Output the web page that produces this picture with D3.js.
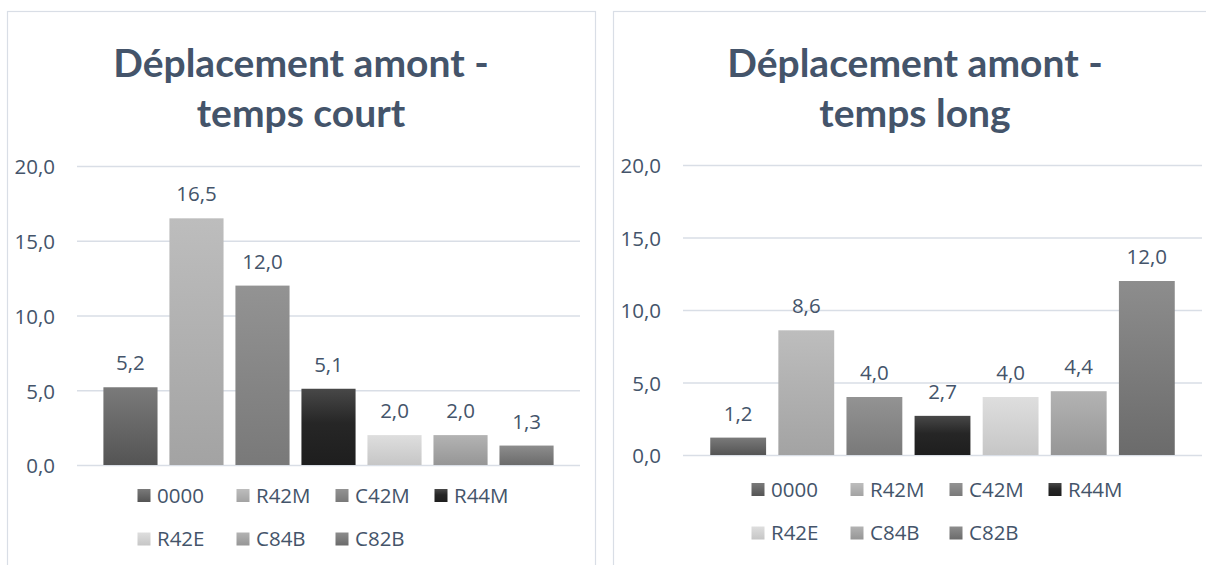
<!DOCTYPE html>
<html lang="fr">
<head>
<meta charset="utf-8">
<script src="https://cdn.jsdelivr.net/npm/d3@7"></script>
<style>
  html, body { margin: 0; padding: 0; background: #ffffff; }
  svg { display: block; }
  .tick text, .value-label, .legend-label { font-family: "Open Sans", "Noto Sans", sans-serif; fill: #44546A; }
  .title { font-family: Lato, "Open Sans", sans-serif; font-weight: 700; fill: #44546A; }
</style>
</head>
<body>
<svg id="chart" width="1206" height="565"></svg>
<script>
// Séries : une barre par configuration
const categories = ["0000", "R42M", "C42M", "R44M", "R42E", "C84B", "C82B"];
const valuesCourt = [5.2, 16.5, 12.0, 5.1, 2.0, 2.0, 1.3];
const valuesLong = [1.2, 8.6, 4.0, 2.7, 4.0, 4.4, 12.0];
const yTicks = [0, 5, 10, 15, 20];
const titlesCourt = ["Déplacement amont -", "temps court"];
const titlesLong = ["Déplacement amont -", "temps long"];

// Dégradés verticaux (haut → bas) de chaque série
const fillStops = [
  ["#7a7a7a", "#545454"],
  ["#bdbdbd", "#a3a3a3"],
  ["#939393", "#797979"],
  ["#484848", "#1e1e1e"],
  ["#dedede", "#c6c6c6"],
  ["#b3b3b3", "#969696"],
  ["#8d8d8d", "#6b6b6b"]
];

const fr = d3.formatLocale({ decimal: ",", thousands: " ", grouping: [3], currency: ["", " €"] });
const fmt = fr.format(".1f");

const svg = d3.select("#chart");
const defs = svg.append("defs");

fillStops.forEach((s, i) => {
  const g = defs.append("linearGradient")
    .attr("id", "grad" + i)
    .attr("x1", 0).attr("y1", 0).attr("x2", 0).attr("y2", 1);
  g.append("stop").attr("offset", "0%").attr("stop-color", s[0]);
  if (i === 3) g.append("stop").attr("offset", "45%").attr("stop-color", "#262626");
  g.append("stop").attr("offset", "100%").attr("stop-color", s[1]);
});

const panels = [
  {
    titles: titlesCourt, values: valuesCourt,
    frame: { x: 7.5, y: 11.5, w: 588, h: 600 },
    titleX: 301, titleY: [77, 127],
    plot: { x0: 77, x1: 580, y0: 166, y1: 465 },
    legend: { y: 489, rowGap: 43.5 }
  },
  {
    titles: titlesLong, values: valuesLong,
    frame: { x: 613.5, y: 11.5, w: 610, h: 600 },
    titleX: 915, titleY: [77, 127],
    plot: { x0: 683, x1: 1202, y0: 165, y1: 455 },
    legend: { y: 483, rowGap: 43.5 }
  }
];

panels.forEach(p => {
  const root = svg.append("g");

  // cadre du graphique
  root.append("rect")
    .attr("x", p.frame.x).attr("y", p.frame.y)
    .attr("width", p.frame.w).attr("height", p.frame.h)
    .attr("fill", "#ffffff")
    .attr("stroke", "#D9DEE6").attr("stroke-width", 1.2);

  // titre sur deux lignes
  root.selectAll("text.title")
    .data(p.titles)
    .join("text")
    .attr("class", "title")
    .attr("x", p.titleX)
    .attr("y", (d, i) => p.titleY[i])
    .attr("text-anchor", "middle")
    .attr("font-size", 39)
    .text(d => d);

  const x = d3.scaleBand()
    .domain(categories)
    .range([p.plot.x0, p.plot.x1])
    .paddingInner(0.18)
    .paddingOuter(0.4);

  const y = d3.scaleLinear()
    .domain([0, 20])
    .range([p.plot.y1, p.plot.y0]);

  // axe vertical avec quadrillage
  const axis = root.append("g")
    .attr("transform", `translate(${p.plot.x0},0)`)
    .call(d3.axisLeft(y)
      .tickValues(yTicks)
      .tickSize(-(p.plot.x1 - p.plot.x0))
      .tickPadding(22)
      .tickFormat(fmt));
  axis.select(".domain").remove();
  axis.selectAll(".tick line")
    .attr("stroke", "#D9DEE6")
    .attr("stroke-width", 1.3);
  axis.selectAll(".tick text")
    .attr("font-size", 20.5)
    .attr("dy", "0.38em")
    .attr("fill", "#44546A");

  // barres
  root.append("g")
    .selectAll("rect")
    .data(p.values)
    .join("rect")
    .attr("x", (d, i) => x(categories[i]))
    .attr("y", d => y(d))
    .attr("width", x.bandwidth())
    .attr("height", d => y(0) - y(d))
    .attr("fill", (d, i) => `url(#grad${i})`);

  // étiquettes de valeur
  root.append("g")
    .selectAll("text")
    .data(p.values)
    .join("text")
    .attr("class", "value-label")
    .attr("x", (d, i) => x(categories[i]) + x.bandwidth() / 2)
    .attr("y", d => y(d) - 17)
    .attr("text-anchor", "middle")
    .attr("font-size", 20.5)
    .text(d => fmt(d));

  // légende : 4 colonnes, 2 lignes
  const colW = 99;
  const lx0 = (p.plot.x0 + p.plot.x1) / 2 - 191;
  const items = root.append("g")
    .selectAll("g")
    .data(categories)
    .join("g")
    .attr("transform", (d, i) =>
      `translate(${lx0 + (i % 4) * colW},${p.legend.y + Math.floor(i / 4) * p.legend.rowGap})`);
  items.append("rect")
    .attr("width", 13).attr("height", 13)
    .attr("fill", (d, i) => `url(#grad${i})`);
  items.append("text")
    .attr("class", "legend-label")
    .attr("x", 19.5)
    .attr("y", 13.5)
    .attr("font-size", 20.5)
    .text(d => d);
});
</script>
</body>
</html>
